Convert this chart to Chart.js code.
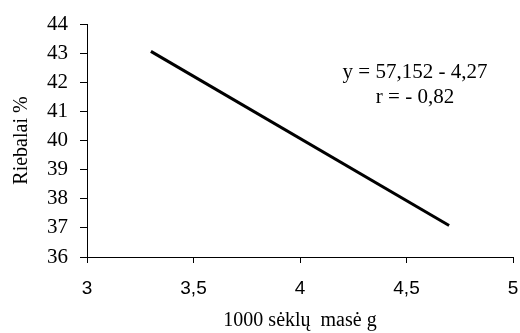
<!DOCTYPE html>
<html>
<head>
<meta charset="utf-8">
<script src="https://cdn.jsdelivr.net/npm/chart.js@4"></script>
<style>
  html, body { margin: 0; padding: 0; background: #fff; }
  #wrap { width: 520px; height: 333px; }
</style>
</head>
<body>
<div id="wrap"><canvas id="chart"></canvas></div>
<script>
// regression line endpoints
const lineX = [3.3, 4.7];
const lineY = [43.06, 37.08];
const xTicks = [3, 3.5, 4, 4.5, 5];
const yTicks = [36, 37, 38, 39, 40, 41, 42, 43, 44];
const equationText = ["y = 57,152 - 4,27", "r = - 0,82"];

const serif = "'Liberation Serif', 'Times New Roman', serif";
const sans = "'Liberation Sans', Arial, sans-serif";

// draws the equation text inside the plot
const equationPlugin = {
    id: "equation",
    afterDatasetsDraw(chart) {
        const { ctx, scales } = chart;
        ctx.save();
        ctx.fillStyle = "#000";
        ctx.font = "21px " + serif;
        ctx.textAlign = "center";
        ctx.textBaseline = "middle";
        const cx = scales.x.getPixelForValue(4.54);
        ctx.fillText(equationText[0], cx, scales.y.getPixelForValue(42.35));
        ctx.fillText(equationText[1], cx, scales.y.getPixelForValue(41.46));
        ctx.restore();
    }
};

const ctx = document.getElementById("chart").getContext("2d");
new Chart(ctx, {
    type: "scatter",
    data: {
        datasets: [{
            data: lineX.map((x, i) => ({ x, y: lineY[i] })),
            showLine: true,
            borderColor: "#000",
            borderWidth: 3,
            pointRadius: 0,
            fill: false
        }]
    },
    options: {
        responsive: true,
        maintainAspectRatio: false,
        animation: false,
        layout: { padding: { top: 24, right: 7, left: 0, bottom: 0 } },
        plugins: {
            legend: { display: false },
            tooltip: { enabled: false }
        },
        scales: {
            x: {
                type: "linear",
                min: 3,
                max: 5,
                afterBuildTicks: axis => { axis.ticks = xTicks.map(v => ({ value: v })); },
                afterFit: axis => {
                    axis.height = 76;
                    axis.paddingLeft = 0;
                    axis.paddingRight = 0;
                },
                grid: { drawOnChartArea: false, drawTicks: true, tickLength: 6, color: "#000" },
                border: { color: "#000", width: 1 },
                ticks: {
                    color: "#000",
                    padding: 14,
                    font: { family: sans, size: 19 },
                    callback: v => String(v).replace(".", ",")
                },
                title: {
                    display: true,
                    text: "1000 sėklų  masė g",
                    color: "#000",
                    font: { family: serif, size: 20 },
                    padding: { top: 6, bottom: 0 }
                }
            },
            y: {
                min: 36,
                max: 44,
                afterBuildTicks: axis => { axis.ticks = yTicks.map(v => ({ value: v })); },
                afterFit: axis => {
                    axis.width = 87;
                    axis.paddingTop = 0;
                    axis.paddingBottom = 0;
                },
                grid: { drawOnChartArea: false, drawTicks: true, tickLength: 7, color: "#000" },
                border: { color: "#000", width: 1 },
                ticks: {
                    color: "#000",
                    padding: 12,
                    font: { family: serif, size: 21 }
                },
                title: {
                    display: true,
                    text: "Riebalai %",
                    color: "#000",
                    font: { family: serif, size: 20 },
                    padding: { top: 10, bottom: 0 }
                }
            }
        }
    },
    plugins: [equationPlugin]
});
</script>
</body>
</html>
